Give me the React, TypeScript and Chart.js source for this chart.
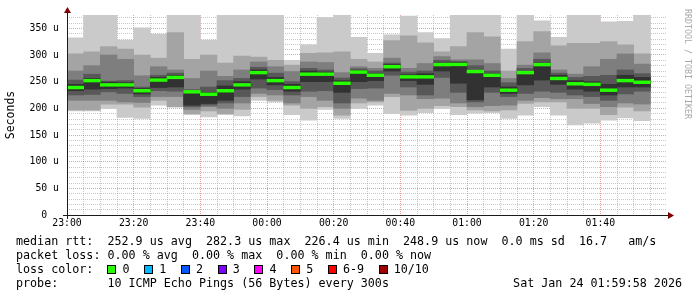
import React, { useEffect, useRef } from "react";
import { Chart, registerables } from "chart.js";

Chart.register(...registerables);

// ---- data ----
const BAR_START = [
  "23:00", "23:05", "23:10", "23:15", "23:20", "23:25", "23:30", "23:35", "23:40", "23:45", "23:50", "23:55",
  "00:00", "00:05", "00:10", "00:15", "00:20", "00:25", "00:30", "00:35", "00:40", "00:45", "00:50", "00:55",
  "01:00", "01:05", "01:10", "01:15", "01:20", "01:25", "01:30", "01:35", "01:40", "01:45", "01:50",
];

// sorted pings (µs), ping 1 = fastest ... ping 10 = slowest
const PING1 = [195, 195, 200, 183, 181, 206, 202, 188, 184, 188, 186, 215, 212, 188, 178, 198, 181, 200, 206, 190, 187, 192, 200, 188, 191, 192, 181, 187, 203, 187, 169, 172, 178, 182, 177];
const PING2 = [197, 197, 208, 208, 202, 215, 203, 190, 195, 190, 198, 222, 215, 206, 200, 203, 187, 210, 212, 222, 196, 200, 205, 203, 197, 195, 197, 209, 212, 212, 200, 200, 188, 202, 195];
const PING3 = [215, 215, 215, 212, 211, 222, 222, 198, 203, 200, 210, 228, 225, 210, 222, 215, 200, 219, 215, 228, 225, 218, 219, 210, 203, 205, 206, 215, 220, 218, 218, 209, 203, 210, 208];
const PING4 = [225, 226, 231, 228, 222, 233, 232, 203, 206, 210, 222, 238, 235, 225, 232, 233, 210, 237, 238, 262, 240, 225, 258, 230, 212, 230, 222, 228, 232, 230, 225, 222, 215, 227, 232];
const PING5 = [233, 236, 237, 238, 227, 239, 240, 206, 209, 215, 236, 255, 244, 232, 250, 250, 230, 250, 252, 270, 252, 245, 270, 247, 216, 240, 228, 244, 253, 245, 236, 232, 225, 240, 240];
const PING6 = [245, 256, 249, 248, 237, 258, 262, 233, 230, 242, 250, 272, 258, 245, 270, 268, 252, 271, 265, 282, 263, 265, 285, 286, 270, 265, 240, 268, 285, 262, 252, 250, 245, 262, 258];
const PING7 = [253, 264, 251, 252, 240, 262, 266, 235, 240, 252, 256, 277, 266, 250, 275, 272, 257, 274, 270, 285, 268, 270, 290, 288, 280, 270, 248, 275, 292, 266, 258, 260, 262, 272, 265];
const PING8 = [270, 280, 300, 292, 261, 278, 272, 256, 270, 260, 272, 287, 278, 269, 287, 286, 267, 278, 275, 294, 275, 284, 297, 291, 291, 284, 256, 281, 304, 272, 264, 278, 292, 302, 283];
const PING9 = [302, 306, 316, 311, 300, 294, 342, 292, 300, 285, 298, 296, 290, 281, 303, 304, 306, 292, 287, 327, 336, 323, 306, 316, 342, 334, 270, 325, 344, 317, 322, 322, 325, 319, 302];
const PING10 = [332, 380, 380, 328, 351, 339, 380, 380, 328, 380, 380, 380, 380, 290, 319, 370, 380, 333, 303, 338, 373, 342, 331, 380, 380, 380, 311, 380, 364, 333, 380, 380, 362, 363, 380];

const MEDIAN = [239, 252, 244, 244, 233, 253, 258, 231, 226.4, 233, 244, 267, 252, 239, 264, 264, 247, 268, 262, 278, 259, 259, 282, 282.3, 269, 262, 234, 267, 282, 256, 246, 245, 234, 252, 248.9];

const X_MIN = "23:00";
const X_MAX = "02:00";
const X_LABEL_EVERY_MIN = 20;
const X_GRID_EVERY_MIN = 5;
const Y_MAX = 375;
const Y_LABEL_EVERY = 50;
const Y_GRID_EVERY = 10;

const LOSS_LABELS = ["0", "1", "2", "3", "4", "5", "6-9", "10/10"];
const LOSS_COLORS = ["#26ff00", "#00b8ff", "#0059ff", "#7e00ff", "#ff00ff", "#ff5500", "#ff0000", "#a10000"];

const RTT_LINE = "median rtt:  252.9 us avg  282.3 us max  226.4 us min  248.9 us now  0.0 ms sd  16.7   am/s";
const LOSS_LINE = "packet loss: 0.00 % avg  0.00 % max  0.00 % min  0.00 % now";
const PROBE_LINE = "probe:       10 ICMP Echo Pings (56 Bytes) every 300s";
const DATE_TEXT = "Sat Jan 24 01:59:58 2026";
const WATERMARK = "RRDTOOL / TOBI OETIKER";
const Y_TITLE = "Seconds";

// ---- helpers ----
const toMin = (hhmm: string) => {
  const [h, m] = hhmm.split(":").map(Number);
  const [h0, m0] = X_MIN.split(":").map(Number);
  return ((h * 60 + m) - (h0 * 60 + m0) + 1440) % 1440;
};
const fmtMin = (v: number) => {
  const [h0, m0] = X_MIN.split(":").map(Number);
  const t = (h0 * 60 + m0 + v) % 1440;
  const h = Math.floor(t / 60);
  const m = t % 60;
  return `${String(h).padStart(2, "0")}:${String(m).padStart(2, "0")}`;
};

const MONO = '"DejaVu Sans Mono", monospace';
const GRID_MINOR = "rgba(143,143,143,0.5)";
const GRID_MAJOR = "rgba(222,79,79,0.55)";
const SMOKE = ["#cacaca", "#a4a4a4", "#7e7e7e", "#585858", "#323232"];
const MEDIAN_HALF = 2.6; // half thickness of the median mark, in µs

const axesPlugin = {
  id: "rrdAxes",
  afterDraw(chart: any) {
    const { ctx, chartArea } = chart;
    const { left, right, top, bottom } = chartArea;
    ctx.save();
    ctx.strokeStyle = "#1a1a1a";
    ctx.lineWidth = 1;
    ctx.beginPath();
    ctx.moveTo(left - 4, Math.round(bottom) + 0.5);
    ctx.lineTo(right + 4, Math.round(bottom) + 0.5);
    ctx.moveTo(Math.round(left) + 0.5, bottom + 4);
    ctx.lineTo(Math.round(left) + 0.5, top - 4);
    ctx.stroke();
    ctx.fillStyle = "#7f0000";
    const yb = Math.round(bottom) + 0.5;
    ctx.beginPath();
    ctx.moveTo(right + 1, yb - 3.5);
    ctx.lineTo(right + 7, yb);
    ctx.lineTo(right + 1, yb + 3.5);
    ctx.closePath();
    ctx.fill();
    const xl = Math.round(left) + 0.5;
    ctx.beginPath();
    ctx.moveTo(xl - 3.5, top - 2);
    ctx.lineTo(xl, top - 8);
    ctx.lineTo(xl + 3.5, top - 2);
    ctx.closePath();
    ctx.fill();
    ctx.restore();
  },
};

export default function App() {
  const ref = useRef<HTMLCanvasElement>(null);

  useEffect(() => {
    const canvas = ref.current;
    if (!canvas) return;
    const centers = BAR_START.map((t) => toMin(t) + X_GRID_EVERY_MIN / 2);
    const lows = [PING1, PING2, PING3, PING4, PING5];
    const highs = [PING10, PING9, PING8, PING7, PING6];
    const datasets: any[] = lows.map((lo, i) => ({
      type: "bar",
      data: centers.map((x, j) => ({ x, y: [lo[j], highs[i][j]] })),
      backgroundColor: SMOKE[i],
      borderWidth: 0,
      grouped: false,
      order: 10 - i,
      categoryPercentage: 1,
      barPercentage: 1,
    }));
    datasets.push({
      type: "bar",
      data: centers.map((x, j) => ({ x, y: [MEDIAN[j] - MEDIAN_HALF, MEDIAN[j] + MEDIAN_HALF] })),
      backgroundColor: LOSS_COLORS[0],
      borderWidth: 0,
      grouped: false,
      order: 0,
      categoryPercentage: 1,
      barPercentage: 1,
    });

    const xMax = toMin(X_MAX) || 1440;

    const chart = new Chart(canvas, {
      type: "bar",
      data: { datasets },
      options: {
        responsive: false,
        animation: false,
        devicePixelRatio: 1,
        layout: { padding: { left: 0, right: 30, top: 15, bottom: 0 } },
        plugins: { legend: { display: false }, tooltip: { enabled: false } },
        scales: {
          x: {
            type: "linear",
            min: 0,
            max: xMax,
            offset: false,
            z: 1,
            grid: {
              offset: false,
              drawTicks: false,
              lineWidth: 1,
              color: (c: any) => {
                const v = c.tick ? c.tick.value : -1;
                if (v <= 0 || v >= xMax) return "rgba(0,0,0,0)";
                return v % X_LABEL_EVERY_MIN === 0 ? GRID_MAJOR : GRID_MINOR;
              },
            },
            border: { display: false, dash: [1, 1] },
            ticks: {
              stepSize: X_GRID_EVERY_MIN,
              autoSkip: false,
              maxRotation: 0,
              minRotation: 0,
              includeBounds: false,
              padding: 3,
              color: "#000",
              font: { family: MONO, size: 9.8 },
              callback: (value: any) => {
                const v = Number(value);
                return v % X_LABEL_EVERY_MIN === 0 && v < xMax ? fmtMin(v) : "";
              },
            },
            afterFit: (s: any) => {
              s.height = 82;
            },
          } as any,
          y: {
            type: "linear",
            min: 0,
            max: Y_MAX,
            z: 1,
            grid: {
              drawTicks: false,
              lineWidth: 1,
              color: (c: any) => {
                const v = c.tick ? c.tick.value : -1;
                if (v <= 0) return "rgba(0,0,0,0)";
                return v % Y_LABEL_EVERY === 0 ? GRID_MAJOR : GRID_MINOR;
              },
            },
            border: { display: false, dash: [1, 1] },
            ticks: {
              stepSize: Y_GRID_EVERY,
              autoSkip: false,
              includeBounds: false,
              padding: 8,
              color: "#000",
              font: { family: MONO, size: 9.8 },
              callback: (value: any) => {
                const v = Number(value);
                if (v % Y_LABEL_EVERY !== 0) return "";
                return v === 0 ? "0  " : `${v} u`;
              },
            },
            title: {
              display: true,
              text: Y_TITLE,
              color: "#000",
              font: { family: MONO, size: 11.5 },
              padding: { top: 4, bottom: 0 },
            },
            afterFit: (s: any) => {
              s.width = 67;
            },
          } as any,
        },
      } as any,
      plugins: [axesPlugin],
    });
    return () => chart.destroy();
  }, []);

  const textStyle: React.CSSProperties = {
    fontFamily: MONO,
    fontSize: "11.7px",
    lineHeight: "14px",
    whiteSpace: "pre",
    color: "#000",
    height: 14,
  };

  return (
    <div
      style={{
        position: "fixed",
        left: 0,
        top: 0,
        width: 697,
        height: 297,
        background: "#fff",
        overflow: "hidden",
      }}
    >
      <canvas
        ref={ref}
        width={697}
        height={297}
        style={{ position: "absolute", left: 0, top: 0, width: 697, height: 297 }}
      />
      <div style={{ position: "absolute", left: 16, top: 234 }}>
        <div style={textStyle}>{RTT_LINE}</div>
        <div style={textStyle}>{LOSS_LINE}</div>
        <div style={{ ...textStyle, display: "flex", alignItems: "center" }}>
          <span>{"loss color:  "}</span>
          {LOSS_LABELS.map((lab, i) => (
            <span key={lab} style={{ display: "inline-flex", alignItems: "center", marginRight: 14.7 }}>
              <span
                style={{
                  display: "inline-block",
                  width: 9,
                  height: 9,
                  boxSizing: "border-box",
                  border: "1px solid #000",
                  background: LOSS_COLORS[i],
                  marginRight: 6,
                }}
              />
              <span>{lab}</span>
            </span>
          ))}
        </div>
        <div style={textStyle}>{PROBE_LINE}</div>
      </div>
      <div style={{ ...textStyle, position: "absolute", right: 15, top: 276 }}>{DATE_TEXT}</div>
      <div
        style={{
          position: "absolute",
          left: 683,
          top: 9,
          writingMode: "vertical-rl",
          fontFamily: MONO,
          fontSize: "8.3px",
          lineHeight: "9px",
          whiteSpace: "pre",
          color: "#a8a8a8",
        }}
      >
        {WATERMARK}
      </div>
    </div>
  );
}
